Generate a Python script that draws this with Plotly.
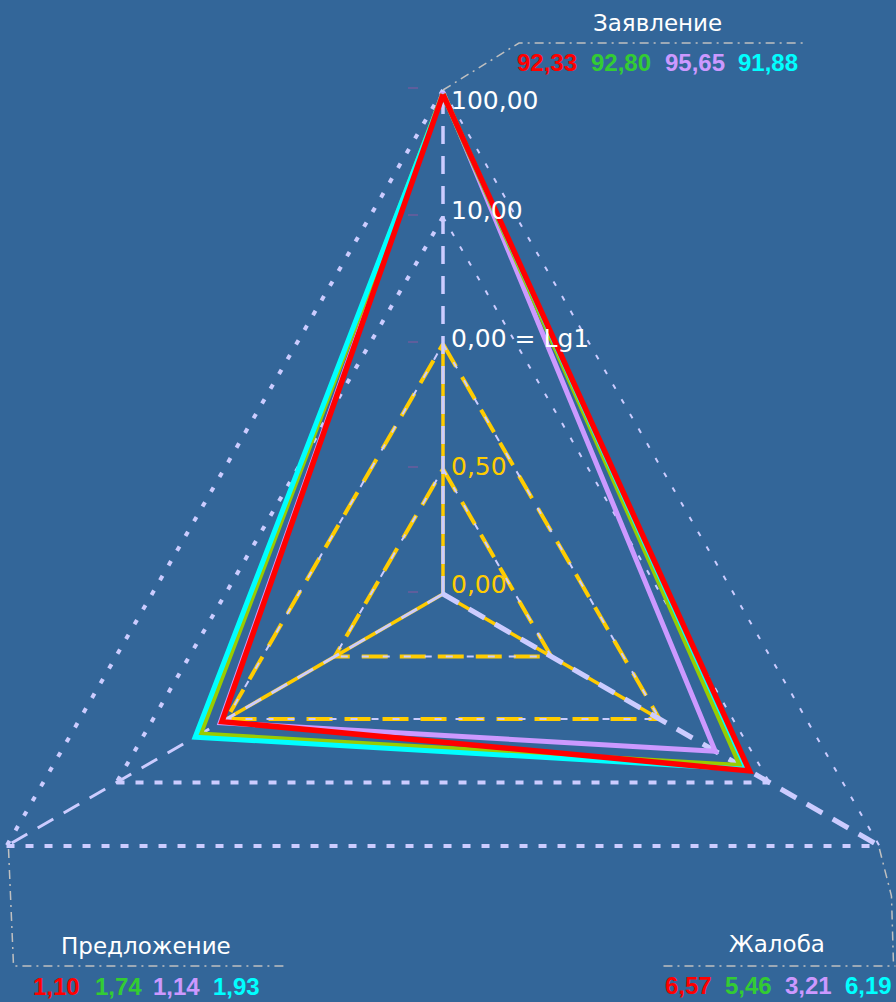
import numpy as np
import plotly.graph_objects as go

# ---------------- data ----------------
categories = ["Заявление", "Жалоба", "Предложение"]
series_red = [92.33, 6.57, 1.10]
series_green = [92.80, 5.46, 1.74]
series_lavender = [95.65, 3.21, 1.14]
series_cyan = [91.88, 6.19, 1.93]
tick_values = [0.0, 0.5, 1.0, 10.0, 100.0]
tick_labels = ["0,00", "0,50", "0,00 = Lg1", "10,00", "100,00"]

# ---------------- scale ----------------
W, H = 896, 1002
CX, CY = 443, 594          # centre of the radar
R1 = 250                   # radius of value 1 (linear part 0..1)
DEC = 127                  # radius per decade (log part above 1)
ANG = np.deg2rad([90, -30, 210])


def radial(v):
    v = float(v)
    return v * R1 if v <= 1 else R1 + np.log10(v) * DEC


def to_xy(v, k):
    r = radial(v)
    return CX + r * np.cos(ANG[k]), CY - r * np.sin(ANG[k])


def poly(v_list, close=True):
    pts = [to_xy(v, k) for k, v in enumerate(v_list)]
    if close:
        pts.append(pts[0])
    xs, ys = zip(*pts)
    return list(xs), list(ys)


fig = go.Figure()
LAV = "#ccccff"
YEL = "#ffcc00"
GREY = "#c0c0c0"


def add_line(xs, ys, color, width, dash="solid"):
    fig.add_trace(go.Scatter(x=xs, y=ys, mode="lines", hoverinfo="skip",
                             line=dict(color=color, width=width, dash=dash),
                             showlegend=False))


# outer log grid (10 and 100)
for lvl in [100, 10]:
    top, br, bl = to_xy(lvl, 0), to_xy(lvl, 1), to_xy(lvl, 2)
    add_line([top[0], bl[0]], [top[1], bl[1]], LAV, 4, "5px,12px")
    add_line([top[0], br[0]], [top[1], br[1]], LAV, 2, "5px,12px")
    add_line([bl[0], br[0]], [bl[1], br[1]], LAV, 4, "8px,11px")

# leader lines to the category labels
t100, br100, bl100 = to_xy(100, 0), to_xy(100, 1), to_xy(100, 2)
DD = "9px,5px,2px,5px"
add_line([t100[0], t100[0] + 76, t100[0] + 364], [t100[1], t100[1] - 47, t100[1] - 47],
         GREY, 1.5, DD)
add_line([bl100[0] + 2, bl100[0] + 7, bl100[0] + 277], [bl100[1] + 3, bl100[1] + 120, bl100[1] + 120],
         GREY, 1.5, DD)
add_line([br100[0], br100[0] + 12, br100[0] + 14], [br100[1] + 3, br100[1] + 50, br100[1] + 118],
         GREY, 1.5, DD)
add_line([br100[0] - 216, br100[0] + 16], [br100[1] + 120, br100[1] + 120],
         GREY, 1.5, DD)

# yellow linear part (0..1)
for k in range(3):
    p = to_xy(1, k)
    add_line([CX, p[0]], [CY, p[1]], YEL, 3.5)
for lvl in [0.5, 1.0]:
    xs, ys = poly([lvl] * 3)
    add_line(xs, ys, YEL, 4, "26px,12px")
    add_line(xs, ys, LAV, 2, "7px,14px")

# radial axes (dashed lavender)
for k, wdt in zip(range(3), [3.5, 5, 3]):
    p = to_xy(100, k)
    add_line([CX, p[0]], [CY, p[1]], LAV, wdt, "18px,12px")

# small tick marks on the top axis
for v in tick_values:
    x, y = to_xy(v, 0)
    add_line([x - 35, x - 25], [y - 2, y - 2], "#5e5e9c", 2)

# data series
series = [
    (series_lavender, "#cc99ff", 5),
    (series_green, "#99cc00", 5.5),
    (series_cyan, "#00ffff", 5),
    (series_red, "#ff0000", 5.5),
]
for vals, col, wdt in series:
    xs, ys = poly(vals)
    fig.add_trace(go.Scatter(x=xs, y=ys, mode="lines", hoverinfo="skip",
                             line=dict(color=col, width=wdt), showlegend=False))

# ---------------- texts ----------------
ann = []
tick_colors = ["#ffcc00", "#ffcc00", "#ffffff", "#ffffff", "#ffffff"]
tick_shift = [10, 3, 6, 7, -10]
for v, lab, col, sh in zip(tick_values, tick_labels, tick_colors, tick_shift):
    x, y = to_xy(v, 0)
    ann.append(dict(x=x + 6, y=y, xref="x", yref="y", text=lab, showarrow=False,
                    xanchor="left", yanchor="middle", yshift=sh,
                    font=dict(family="DejaVu Sans", size=25, color=col)))

title_pos = [(657, 23), (777, 944), (146, 946)]
for name, (x, y) in zip(categories, title_pos):
    ann.append(dict(x=x, y=y, xref="x", yref="y", text=name, showarrow=False,
                    xanchor="center", yanchor="middle",
                    font=dict(family="DejaVu Sans", size=23, color="#ffffff")))

label_colors = ["#ff0000", "#33cc33", "#cc99ff", "#00ffff"]
all_series = [series_red, series_green, series_lavender, series_cyan]
label_x = [[517, 591, 665, 738], [665, 725, 785, 845], [33, 95, 153, 213]]
label_y = [62, 985, 986]
for k in range(3):
    for s, col, x in zip(all_series, label_colors, label_x[k]):
        ann.append(dict(x=x - 2, y=label_y[k], xref="x", yref="y",
                        text="<b>" + f"{s[k]:.2f}".replace(".", ",") + "</b>",
                        showarrow=False, xanchor="left", yanchor="middle",
                        font=dict(family="Liberation Sans", size=24, color=col)))

fig.update_layout(
    width=W, height=H, margin=dict(l=0, r=0, t=0, b=0),
    paper_bgcolor="#336699", plot_bgcolor="#336699",
    xaxis=dict(range=[0, W], visible=False, fixedrange=True),
    yaxis=dict(range=[H, 0], visible=False, fixedrange=True),
    annotations=ann, showlegend=False,
)
fig.write_html("out.html", config={"displayModeBar": False},
               post_script="document.body.style.margin='0';document.body.style.padding='0';"
                           "document.body.style.overflow='hidden';")
